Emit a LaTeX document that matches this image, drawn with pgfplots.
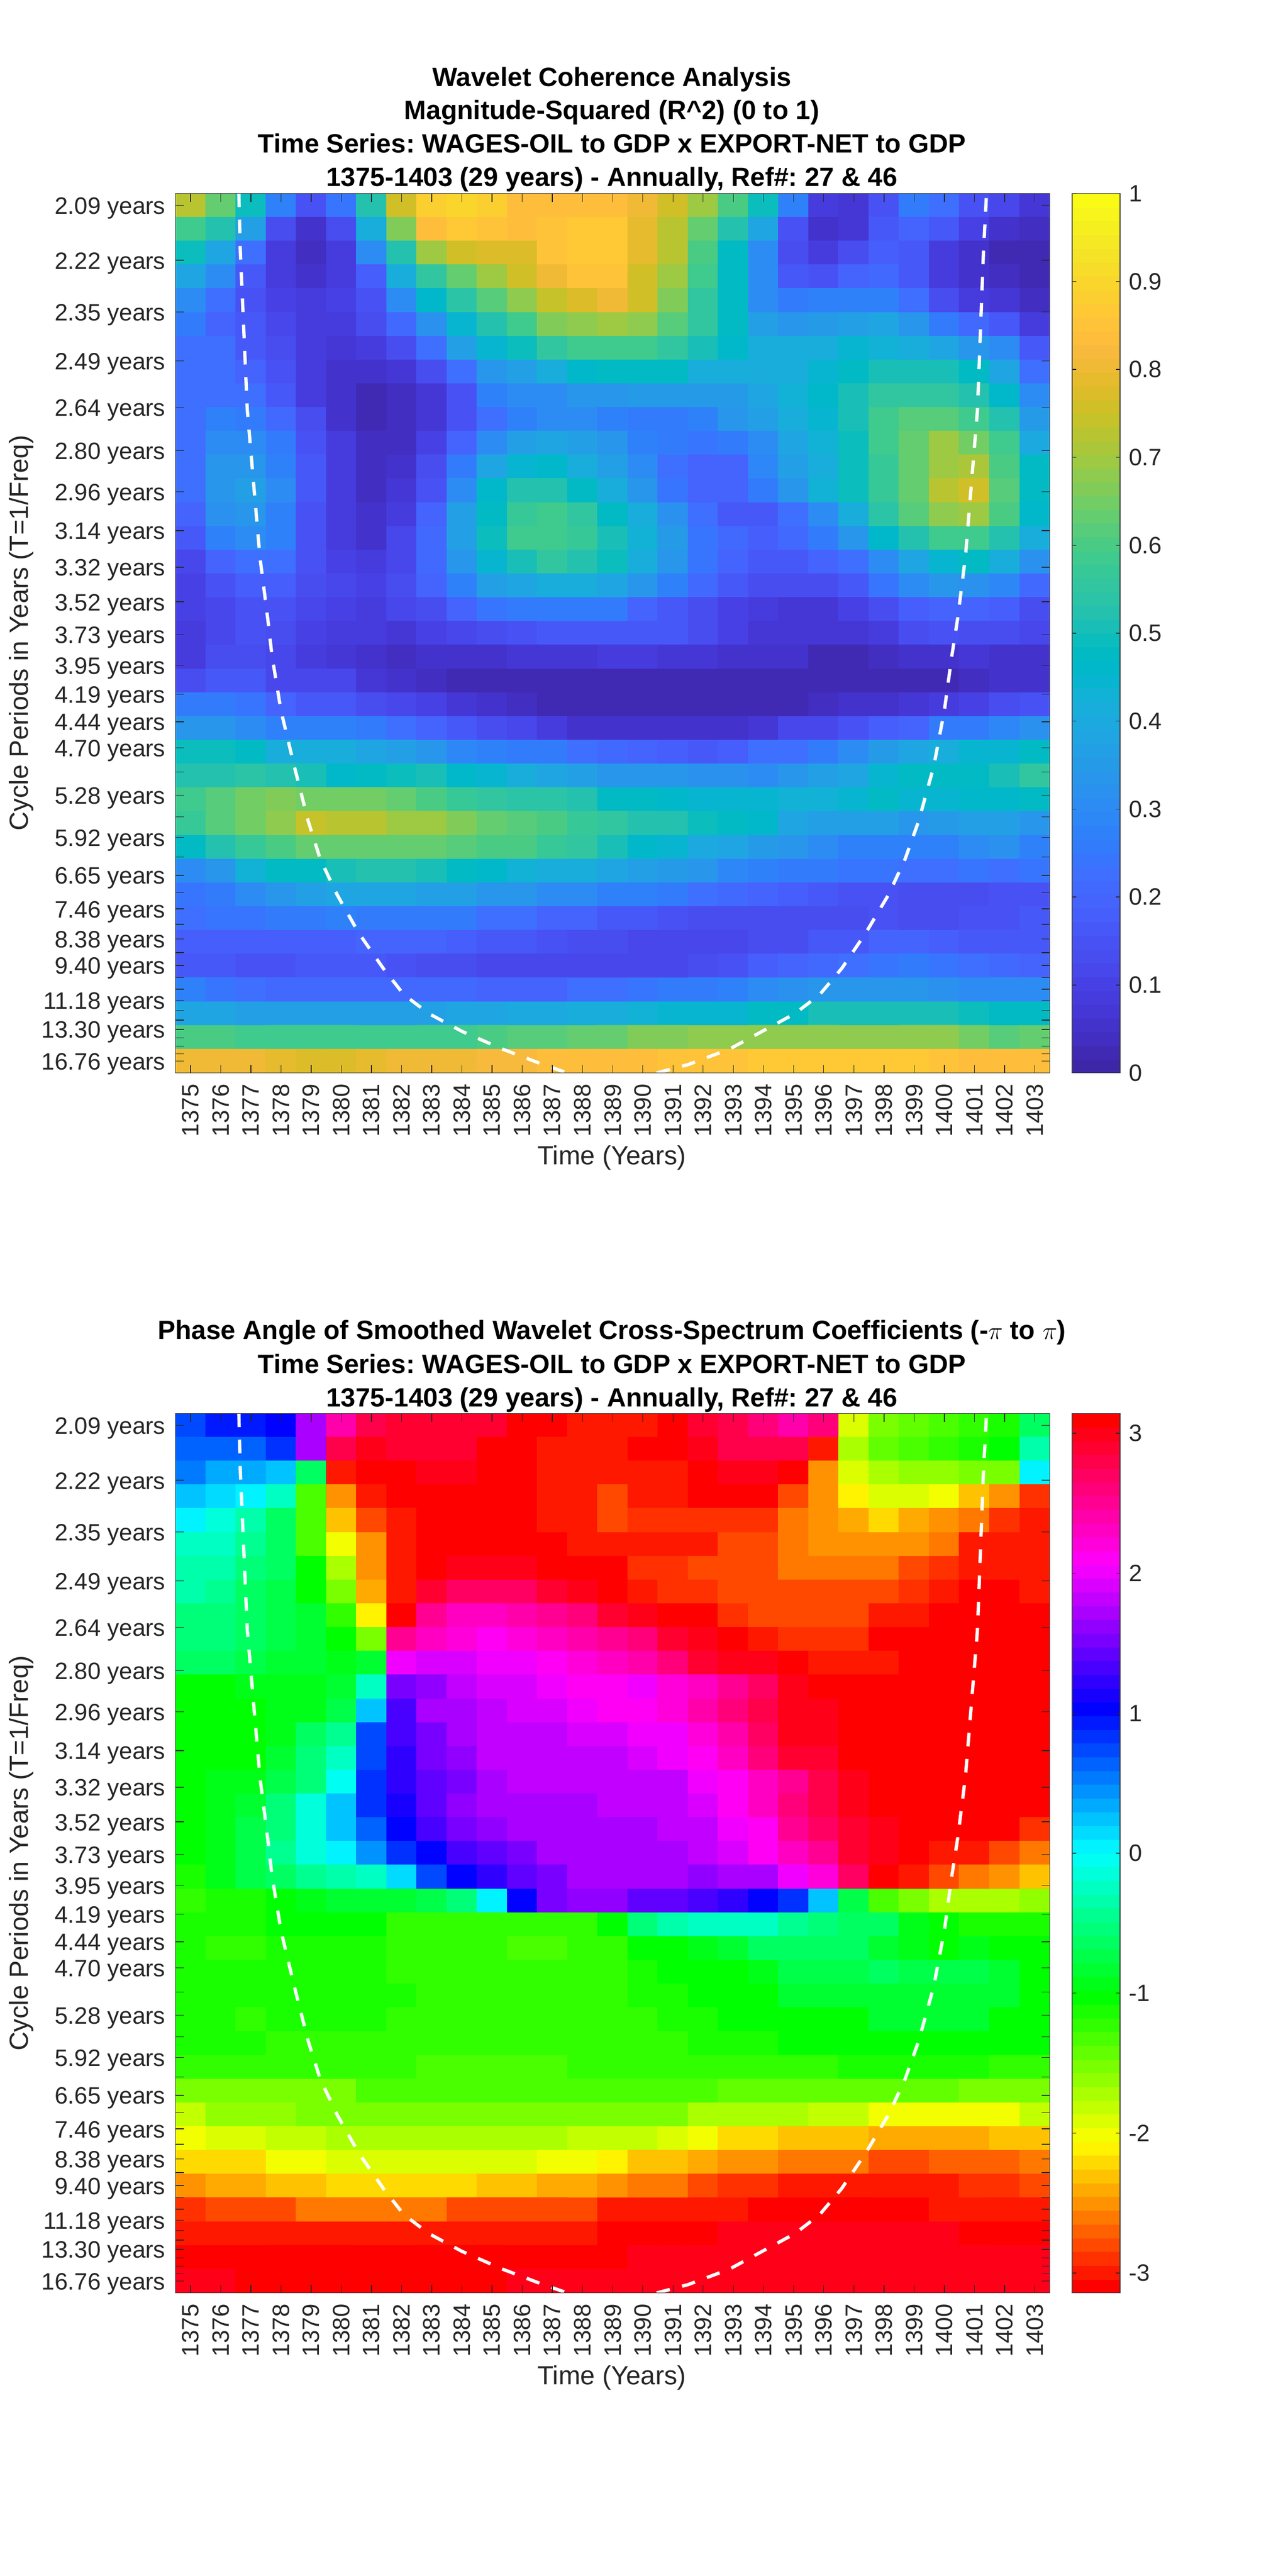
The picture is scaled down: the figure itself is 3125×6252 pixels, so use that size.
\documentclass[border=0pt]{standalone}
\usepackage{pgfplots}
\pgfplotsset{compat=1.18}
\usepackage{fontspec}
\setmainfont{Liberation Sans}
\frenchspacing
\pgfplotsset{
 colormap={parula}{
 rgb=(0.2422,0.1504,0.6603) rgb=(0.2504,0.1650,0.7076) rgb=(0.2578,0.1818,0.7511) rgb=(0.2647,0.1978,0.7952)
 rgb=(0.2706,0.2147,0.8364) rgb=(0.2751,0.2342,0.8710) rgb=(0.2783,0.2559,0.8991) rgb=(0.2803,0.2782,0.9221)
 rgb=(0.2813,0.3006,0.9414) rgb=(0.2810,0.3228,0.9579) rgb=(0.2795,0.3447,0.9717) rgb=(0.2760,0.3667,0.9829)
 rgb=(0.2699,0.3892,0.9906) rgb=(0.2602,0.4123,0.9952) rgb=(0.2440,0.4358,0.9988) rgb=(0.2206,0.4603,0.9973)
 rgb=(0.1963,0.4847,0.9892) rgb=(0.1834,0.5074,0.9798) rgb=(0.1786,0.5289,0.9682) rgb=(0.1764,0.5499,0.9520)
 rgb=(0.1687,0.5703,0.9359) rgb=(0.1540,0.5902,0.9218) rgb=(0.1460,0.6091,0.9079) rgb=(0.1380,0.6276,0.8973)
 rgb=(0.1248,0.6459,0.8883) rgb=(0.1113,0.6635,0.8763) rgb=(0.0952,0.6798,0.8598) rgb=(0.0689,0.6948,0.8394)
 rgb=(0.0297,0.7082,0.8163) rgb=(0.0036,0.7203,0.7917) rgb=(0.0067,0.7312,0.7660) rgb=(0.0433,0.7411,0.7394)
 rgb=(0.0964,0.7500,0.7120) rgb=(0.1408,0.7584,0.6842) rgb=(0.1717,0.7670,0.6554) rgb=(0.1938,0.7758,0.6251)
 rgb=(0.2161,0.7843,0.5923) rgb=(0.2470,0.7918,0.5567) rgb=(0.2906,0.7973,0.5188) rgb=(0.3406,0.8008,0.4789)
 rgb=(0.3909,0.8029,0.4354) rgb=(0.4456,0.8024,0.3909) rgb=(0.5044,0.7993,0.3480) rgb=(0.5616,0.7942,0.3045)
 rgb=(0.6174,0.7876,0.2612) rgb=(0.6720,0.7793,0.2227) rgb=(0.7242,0.7698,0.1910) rgb=(0.7738,0.7598,0.1646)
 rgb=(0.8203,0.7498,0.1535) rgb=(0.8634,0.7406,0.1596) rgb=(0.9035,0.7330,0.1774) rgb=(0.9393,0.7288,0.2100)
 rgb=(0.9728,0.7298,0.2394) rgb=(0.9956,0.7434,0.2371) rgb=(0.9970,0.7659,0.2199) rgb=(0.9952,0.7893,0.2028)
 rgb=(0.9892,0.8136,0.1885) rgb=(0.9786,0.8386,0.1766) rgb=(0.9676,0.8639,0.1643) rgb=(0.9610,0.8890,0.1537)
 rgb=(0.9597,0.9135,0.1423) rgb=(0.9628,0.9373,0.1265) rgb=(0.9691,0.9606,0.1064) rgb=(0.9769,0.9839,0.0805)},
 colormap={hsvbase}{rgb=(1,0,0) rgb=(1,1,0) rgb=(0,1,0) rgb=(0,1,1) rgb=(0,0,1) rgb=(1,0,1) rgb=(1,0,0)},
 colormap={hsv64}{samples of colormap=(64 of hsvbase)},
 wave/.style={
  scale only axis, width=509.28pt, height=512.3pt, y dir=reverse,
  xmin=1374.5, xmax=1403.5, ymin=0.5, ymax=37.5, axis on top,
  tick align=inside, major tick length=4.8pt,
  tick style={color=black!85, line width=0.4pt},
  axis line style={color=black!75, line width=0.45pt},
  xtick={1375,1376,1377,1378,1379,1380,1381,1382,1383,1384,1385,1386,1387,1388,1389,1390,1391,1392,1393,1394,1395,1396,1397,1398,1399,1400,1401,1402,1403},
  xticklabels={1375,1376,1377,1378,1379,1380,1381,1382,1383,1384,1385,1386,1387,1388,1389,1390,1391,1392,1393,1394,1395,1396,1397,1398,1399,1400,1401,1402,1403},
  xticklabel style={rotate=90, anchor=east, inner sep=0pt, xshift=-6.2pt, font=\fontsize{13.8}{16}\selectfont, text=black!85},
  ytick={1,3.309,5.489,7.546,9.488,11.321,13.051,14.684,16.225,17.680,19.053,20.349,21.572,22.727,23.816,24.845,25.816,26.732,27.597,28.414,29.184,29.912,30.598,31.246,31.858,32.435,32.980,33.495,33.979,34.438,34.871,35.279,35.664,36.028,36.371,36.695,37.001},
  yticklabels={2.09 years,2.22 years,2.35 years,2.49 years,2.64 years,2.80 years,2.96 years,3.14 years,3.32 years,3.52 years,3.73 years,3.95 years,4.19 years,4.44 years,4.70 years,{},5.28 years,{},5.92 years,{},6.65 years,{},7.46 years,{},8.38 years,{},9.40 years,{},{},11.18 years,{},{},13.30 years,{},{},{},16.76 years},
  yticklabel style={anchor=east, inner sep=0pt, xshift=-5.7pt, yshift=-1.7pt, font=\fontsize{13.8}{16}\selectfont, text=black!85},
 },
 cbar/.style={
  colorbar sampled,
  colorbar style={samples=65, at={(1.0255,1)}, anchor=north west, width=27.84pt,
   tick align=inside, major tick length=2.4pt,
   tick style={color=black!85, line width=0.4pt},
   axis line style={color=black!75, line width=0.45pt},
   yticklabel style={inner sep=0pt, xshift=5pt, anchor=west, font=\fontsize{13.8}{16}\selectfont, text=black!85},
   #1}
 },
 coi/.style={white, line width=1.9pt, dash pattern=on 7.9pt off 7.4pt}
}
\begin{document}
\begin{tikzpicture}[x=0.24pt,y=0.24pt]
\path[use as bounding box] (0,0) rectangle (3125,6252);
\begin{axis}[wave, at={(102.24pt,875.52pt)}, anchor=south west, colormap name=parula, colormap access=piecewise constant,
 point meta min=0, point meta max=1,
 cbar={ytick={0,0.1,0.2,0.3,0.4,0.5,0.6,0.7,0.8,0.9,1}, yticklabels={0,0.1,0.2,0.3,0.4,0.5,0.6,0.7,0.8,0.9,1}}]
\addplot[matrix plot*, mesh/cols=29, point meta=explicit] table[x expr={mod(\coordindex,29)+1375}, y expr={floor((\coordindex+0.5)/29)+1}, meta index=0, header=false, empty line=none] {
0.73 
0.63 
0.49 
0.27 
0.15 
0.24 
0.53 
0.76 
0.88 
0.90 
0.88 
0.83 
0.83 
0.83 
0.83 
0.80 
0.75 
0.69 
0.60 
0.49 
0.27 
0.08 
0.07 
0.15 
0.25 
0.22 
0.15 
0.11 
0.07
0.59
0.52
0.37
0.13
0.05
0.13
0.42
0.66
0.84
0.86
0.85
0.83
0.85
0.86
0.86
0.79
0.73
0.64
0.53
0.39
0.15
0.05
0.07
0.16
0.20
0.16
0.10
0.05
0.04
0.49
0.39
0.22
0.09
0.04
0.08
0.30
0.53
0.70
0.76
0.77
0.77
0.85
0.86
0.86
0.79
0.72
0.60
0.48
0.30
0.14
0.09
0.13
0.18
0.16
0.09
0.06
0.03
0.03
0.38
0.30
0.16
0.09
0.05
0.08
0.18
0.41
0.56
0.63
0.70
0.75
0.80
0.85
0.85
0.76
0.70
0.58
0.48
0.30
0.17
0.15
0.19
0.21
0.16
0.08
0.05
0.04
0.03
0.31
0.23
0.15
0.10
0.08
0.10
0.15
0.31
0.46
0.54
0.61
0.68
0.74
0.78
0.80
0.75
0.66
0.56
0.47
0.30
0.26
0.27
0.28
0.27
0.23
0.14
0.09
0.07
0.04
0.25
0.20
0.17
0.11
0.09
0.09
0.13
0.21
0.32
0.44
0.53
0.58
0.66
0.68
0.70
0.68
0.61
0.56
0.47
0.36
0.34
0.35
0.36
0.38
0.33
0.26
0.21
0.16
0.08
0.23
0.23
0.17
0.13
0.09
0.07
0.08
0.13
0.22
0.36
0.44
0.49
0.55
0.58
0.59
0.59
0.56
0.50
0.46
0.42
0.42
0.42
0.44
0.43
0.41
0.38
0.33
0.31
0.17
0.23
0.22
0.19
0.15
0.09
0.06
0.05
0.07
0.14
0.23
0.33
0.37
0.41
0.46
0.47
0.48
0.48
0.42
0.41
0.41
0.41
0.45
0.47
0.50
0.50
0.50
0.47
0.38
0.22
0.23
0.22
0.22
0.17
0.09
0.05
0.03
0.04
0.07
0.15
0.27
0.30
0.31
0.33
0.34
0.35
0.35
0.35
0.35
0.38
0.43
0.46
0.50
0.55
0.55
0.55
0.52
0.46
0.30
0.23
0.28
0.26
0.21
0.13
0.06
0.03
0.04
0.07
0.15
0.23
0.28
0.30
0.30
0.27
0.26
0.26
0.28
0.33
0.36
0.41
0.45
0.51
0.59
0.61
0.62
0.58
0.52
0.35
0.23
0.31
0.31
0.26
0.15
0.08
0.04
0.04
0.10
0.20
0.31
0.36
0.38
0.37
0.33
0.27
0.25
0.24
0.25
0.30
0.39
0.43
0.49
0.58
0.63
0.69
0.65
0.58
0.40
0.23
0.33
0.34
0.28
0.16
0.08
0.04
0.05
0.13
0.26
0.39
0.45
0.46
0.42
0.36
0.30
0.22
0.20
0.20
0.29
0.37
0.42
0.49
0.57
0.64
0.70
0.71
0.60
0.47
0.23
0.33
0.36
0.30
0.16
0.08
0.04
0.07
0.15
0.30
0.46
0.53
0.52
0.48
0.42
0.33
0.24
0.20
0.19
0.26
0.33
0.43
0.49
0.57
0.64
0.73
0.75
0.62
0.48
0.20
0.32
0.34
0.27
0.15
0.09
0.05
0.09
0.20
0.36
0.48
0.57
0.58
0.55
0.48
0.42
0.32
0.22
0.17
0.17
0.22
0.31
0.41
0.54
0.61
0.68
0.70
0.60
0.46
0.17
0.28
0.30
0.27
0.15
0.09
0.06
0.11
0.21
0.37
0.49
0.58
0.58
0.57
0.50
0.43
0.35
0.24
0.21
0.18
0.21
0.26
0.34
0.46
0.52
0.58
0.58
0.53
0.41
0.12
0.20
0.22
0.22
0.15
0.10
0.08
0.11
0.21
0.34
0.45
0.50
0.55
0.53
0.49
0.42
0.33
0.24
0.20
0.16
0.16
0.19
0.23
0.30
0.39
0.44
0.48
0.41
0.32
0.10
0.15
0.18
0.18
0.14
0.11
0.10
0.13
0.19
0.27
0.36
0.38
0.41
0.41
0.39
0.34
0.27
0.21
0.17
0.14
0.13
0.14
0.17
0.24
0.30
0.33
0.32
0.29
0.21
0.10
0.12
0.15
0.15
0.12
0.10
0.09
0.11
0.14
0.20
0.24
0.25
0.25
0.25
0.25
0.20
0.17
0.14
0.10
0.09
0.07
0.07
0.10
0.14
0.18
0.20
0.20
0.18
0.14
0.08
0.11
0.15
0.13
0.10
0.09
0.08
0.07
0.10
0.11
0.13
0.15
0.17
0.17
0.17
0.16
0.16
0.13
0.10
0.07
0.07
0.07
0.07
0.09
0.14
0.15
0.14
0.13
0.11
0.09
0.13
0.13
0.11
0.09
0.07
0.05
0.04
0.05
0.05
0.06
0.07
0.07
0.07
0.08
0.08
0.07
0.07
0.06
0.05
0.05
0.03
0.03
0.04
0.05
0.06
0.07
0.06
0.05
0.14
0.16
0.16
0.12
0.11
0.12
0.07
0.06
0.04
0.03
0.03
0.03
0.03
0.03
0.03
0.03
0.03
0.02
0.02
0.02
0.02
0.02
0.02
0.03
0.03
0.03
0.04
0.06
0.06
0.25
0.25
0.24
0.19
0.17
0.17
0.14
0.12
0.10
0.07
0.05
0.04
0.02
0.02
0.02
0.02
0.02
0.02
0.02
0.03
0.03
0.04
0.06
0.06
0.07
0.09
0.10
0.13
0.15
0.33
0.33
0.31
0.28
0.27
0.27
0.25
0.23
0.20
0.17
0.13
0.12
0.09
0.06
0.05
0.05
0.05
0.05
0.06
0.07
0.11
0.12
0.15
0.18
0.20
0.25
0.26
0.29
0.32
0.49
0.49
0.47
0.42
0.41
0.41
0.38
0.36
0.34
0.29
0.27
0.26
0.25
0.22
0.21
0.19
0.18
0.16
0.18
0.22
0.23
0.26
0.31
0.35
0.38
0.42
0.44
0.44
0.47
0.53
0.53
0.54
0.53
0.51
0.46
0.47
0.49
0.50
0.46
0.45
0.42
0.38
0.36
0.33
0.33
0.34
0.32
0.32
0.31
0.34
0.36
0.39
0.45
0.47
0.47
0.48
0.50
0.55
0.59
0.62
0.65
0.66
0.65
0.65
0.65
0.63
0.60
0.57
0.56
0.54
0.54
0.52
0.48
0.47
0.46
0.44
0.44
0.44
0.43
0.43
0.44
0.47
0.44
0.45
0.46
0.46
0.48
0.57
0.62
0.65
0.68
0.74
0.73
0.72
0.70
0.69
0.66
0.64
0.62
0.60
0.57
0.55
0.53
0.53
0.49
0.47
0.46
0.38
0.37
0.36
0.37
0.34
0.35
0.37
0.36
0.34
0.47
0.53
0.57
0.60
0.63
0.64
0.64
0.64
0.64
0.62
0.60
0.60
0.57
0.55
0.50
0.46
0.44
0.40
0.39
0.35
0.33
0.30
0.28
0.27
0.27
0.28
0.30
0.32
0.28
0.30
0.33
0.43
0.47
0.48
0.51
0.52
0.52
0.50
0.48
0.46
0.43
0.42
0.42
0.39
0.37
0.35
0.33
0.29
0.27
0.26
0.25
0.24
0.24
0.23
0.23
0.24
0.22
0.24
0.24
0.25
0.31
0.33
0.36
0.38
0.38
0.38
0.37
0.36
0.34
0.33
0.31
0.30
0.28
0.27
0.25
0.23
0.21
0.19
0.18
0.16
0.15
0.15
0.14
0.13
0.13
0.15
0.15
0.23
0.24
0.24
0.25
0.26
0.27
0.26
0.26
0.26
0.25
0.23
0.22
0.20
0.19
0.17
0.16
0.15
0.14
0.14
0.14
0.14
0.14
0.14
0.15
0.14
0.14
0.15
0.15
0.16
0.18
0.18
0.18
0.18
0.18
0.18
0.19
0.19
0.20
0.18
0.17
0.17
0.15
0.13
0.13
0.12
0.11
0.12
0.12
0.13
0.14
0.16
0.17
0.19
0.19
0.18
0.17
0.17
0.17
0.17
0.17
0.15
0.15
0.16
0.16
0.16
0.15
0.14
0.14
0.12
0.12
0.11
0.11
0.11
0.12
0.12
0.14
0.15
0.18
0.19
0.21
0.23
0.24
0.25
0.24
0.22
0.21
0.20
0.28
0.24
0.22
0.21
0.21
0.21
0.21
0.21
0.21
0.21
0.20
0.20
0.20
0.22
0.23
0.24
0.25
0.25
0.27
0.30
0.32
0.33
0.33
0.33
0.33
0.32
0.31
0.30
0.31
0.38
0.38
0.37
0.36
0.36
0.36
0.36
0.36
0.37
0.38
0.39
0.40
0.40
0.42
0.42
0.43
0.44
0.45
0.45
0.47
0.48
0.51
0.51
0.51
0.51
0.50
0.49
0.48
0.47
0.60
0.60
0.58
0.58
0.58
0.58
0.59
0.59
0.59
0.59
0.60
0.61
0.62
0.63
0.64
0.66
0.67
0.68
0.68
0.68
0.68
0.68
0.68
0.68
0.68
0.68
0.65
0.62
0.63
0.81
0.81
0.81
0.79
0.78
0.78
0.79
0.80
0.80
0.81
0.82
0.82
0.83
0.84
0.84
0.84
0.85
0.85
0.85
0.86
0.86
0.87
0.87
0.87
0.87
0.85
0.84
0.84
0.83
};
\addplot[coi] coordinates {(1376.6,0.5)(1376.65,2.93)(1376.88,9.6)(1377.3,15.8)(1377.56,18.4)(1377.7,19.95)(1378.0,22.27)(1378.44,24.6)(1378.9,26.9)(1379.3,28.5)(1379.86,30.0)(1380.57,31.6)(1381.39,33.1)(1382.07,34.2)(1382.9,35.0)(1384,35.75)(1385.35,36.5)(1386.7,37.15)(1387.5,37.5)};
\addplot[coi] coordinates {(1390.46,37.5)(1391.5,37.15)(1392.87,36.5)(1393.96,35.75)(1395.05,35.0)(1395.87,34.2)(1396.6,33.1)(1397.4,31.6)(1398.15,30.0)(1398.7,28.5)(1399.15,26.9)(1399.65,24.6)(1400,22.27)(1400.25,19.95)(1400.44,18.4)(1400.7,15.8)(1401.1,9.6)(1401.3,2.93)(1401.4,0.5)};
\end{axis}
\begin{axis}[wave, at={(102.24pt,164.88pt)}, anchor=south west, colormap name=hsv64, colormap access=piecewise constant,
 point meta min=-3.14159, point meta max=3.14159,
 cbar={ytick={-3,-2,-1,0,1,2,3}, yticklabels={-3,-2,-1,0,1,2,3}}]
\addplot[matrix plot*, mesh/cols=29, point meta=explicit] table[x expr={mod(\coordindex,29)+1375}, y expr={floor((\coordindex+0.5)/29)+1}, meta index=0, header=false, empty line=none] {
0.75
0.9
0.9
1.05
1.75
2.45
2.75
2.85
2.85
2.9
2.9
3.14
-3.05
-2.95
-2.95
-3.0
3.14
2.9
2.8
2.6
2.45
2.6
-1.95
-1.55
-1.45
-1.35
-1.25
-1.15
-0.6
0.65
0.65
0.65
0.8
1.75
2.75
2.95
2.9
2.9
2.9
3.05
3.14
-2.95
-2.95
-2.95
-3.05
3.14
3.0
2.8
2.75
2.75
-3.0
-1.75
-1.4
-1.35
-1.2
-1.15
-1.05
-0.3
0.5
0.35
0.35
0.2
-0.65
-3.0
3.14
3.05
2.95
2.95
3.05
3.14
-2.95
-2.95
-2.95
-2.95
-3.0
3.14
3.0
3.0
3.14
-2.55
-1.95
-1.7
-1.6
-1.6
-1.55
-1.5
0
0.25
0.1
0
-0.25
-1.3
-2.55
-2.95
3.14
3.05
3.05
3.1
3.14
-2.95
-2.95
-2.8
-2.95
-2.95
-3.05
-3.05
-3.05
-2.75
-2.5
-2.15
-1.95
-1.95
-2.05
-2.3
-2.55
-2.85
0
-0.1
-0.3
-0.6
-1.35
-2.3
-2.75
-3.0
3.14
3.12
3.1
3.14
-3.0
-2.95
-2.8
-2.9
-2.9
-2.9
-2.9
-2.85
-2.65
-2.5
-2.4
-2.25
-2.4
-2.5
-2.6
-2.85
-2.95
-0.2
-0.25
-0.45
-0.65
-1.3
-2.0
-2.55
-2.95
3.14
3.1
3.1
3.1
-3.05
-2.95
-2.95
-2.95
-2.95
-2.95
-2.8
-2.75
-2.6
-2.55
-2.5
-2.5
-2.55
-2.65
-2.95
-3.0
-3.0
-0.3
-0.35
-0.5
-0.65
-1.05
-1.75
-2.5
-2.95
3.05
3.0
3.0
3.0
3.1
-3.05
-3.05
-2.9
-2.9
-2.8
-2.8
-2.75
-2.65
-2.65
-2.65
-2.65
-2.75
-2.85
-2.95
-2.95
-2.95
-0.35
-0.45
-0.6
-0.7
-1.05
-1.5
-2.4
-3.0
2.85
2.7
2.7
2.7
2.85
3.0
3.14
-3.0
-2.9
-2.9
-2.8
-2.75
-2.75
-2.75
-2.75
-2.75
-2.85
-2.95
-3.05
-3.05
-2.95
-0.5
-0.55
-0.65
-0.7
-0.85
-1.2
-2.1
-3.05
2.5
2.35
2.35
2.4
2.5
2.6
2.85
2.95
3.14
-3.05
-2.85
-2.8
-2.8
-2.8
-2.8
-2.95
-2.95
-3.05
-3.05
-3.05
-3.05
-0.5
-0.55
-0.65
-0.7
-0.8
-1.0
-1.55
2.55
2.35
2.2
2.15
2.2
2.3
2.45
2.55
2.6
2.85
3.0
3.14
-3.0
-2.9
-2.9
-2.9
-3.05
-3.05
-3.05
3.14
3.14
-3.05
-0.65
-0.65
-0.7
-0.8
-0.8
-0.9
-0.8
2.0
1.95
1.95
2.0
2.05
2.1
2.2
2.3
2.45
2.6
2.85
3.0
3.0
3.14
-3.0
-3.0
-3.0
3.14
3.14
3.14
3.14
-3.05
-1.0
-1.0
-0.95
-0.9
-0.9
-0.85
-0.25
1.5
1.6
1.85
1.9
1.95
2.05
2.1
2.1
2.05
2.2
2.35
2.5
2.7
2.95
3.05
3.14
3.14
3.14
3.14
3.14
3.14
-3.05
-1.05
-1.0
-1.0
-0.95
-0.9
-0.75
0.2
1.35
1.7
1.75
1.85
1.9
1.95
2.0
2.1
2.1
2.25
2.45
2.6
2.8
3.0
3.0
3.14
3.14
3.14
3.14
3.14
3.14
-3.05
-1.05
-1.05
-1.0
-0.95
-0.65
-0.4
0.7
1.35
1.55
1.7
1.85
1.85
1.85
1.95
1.95
2.0
2.05
2.25
2.4
2.7
2.95
3.0
3.14
3.14
3.14
3.14
3.14
3.14
-3.05
-1.05
-1.05
-1.05
-0.8
-0.55
-0.2
0.75
1.25
1.55
1.65
1.8
1.85
1.85
1.85
1.85
1.95
2.0
2.1
2.35
2.6
2.85
2.9
3.14
3.14
3.14
3.14
3.14
3.14
-3.05
-1.05
-0.95
-0.9
-0.75
-0.5
-0.05
0.85
1.2
1.45
1.55
1.75
1.8
1.85
1.85
1.85
1.85
1.85
2.0
2.1
2.35
2.55
2.75
3.0
3.14
3.14
3.14
3.14
-3.05
-3.05
-1.05
-0.95
-0.85
-0.55
-0.15
0.2
0.8
1.1
1.4
1.65
1.7
1.75
1.75
1.75
1.85
1.85
1.85
1.95
2.1
2.3
2.6
2.75
3.0
3.1
3.14
3.14
3.14
-3.05
-3.05
-1.05
-0.9
-0.75
-0.5
-0.1
0.2
0.6
1.05
1.3
1.5
1.6
1.7
1.75
1.75
1.75
1.75
1.85
1.85
2.05
2.15
2.55
2.7
2.9
3.0
3.14
-3.1
-3.05
-3.05
-2.9
-1.0
-0.9
-0.7
-0.45
-0.15
0
0.45
0.8
1.05
1.3
1.45
1.55
1.7
1.75
1.75
1.75
1.75
1.85
1.9
2.1
2.3
2.55
2.85
2.95
3.14
-3.0
-2.95
-2.8
-2.6
-1.15
-0.9
-0.75
-0.6
-0.45
-0.3
-0.2
0.1
0.7
1.05
1.25
1.4
1.55
1.75
1.75
1.75
1.75
1.65
1.7
1.75
2.0
2.2
2.7
3.14
-3.0
-2.75
-2.65
-2.55
-2.35
-1.2
-1.15
-1.1
-1.0
-0.9
-0.85
-0.8
-0.8
-0.7
-0.5
0
1.05
1.5
1.65
1.65
1.45
1.4
1.3
1.2
1.05
0.85
0.2
-0.7
-1.35
-1.55
-1.75
-1.75
-1.75
-1.65
-1.15
-1.15
-1.15
-1.05
-1.05
-1.05
-1.05
-1.2
-1.2
-1.2
-1.2
-1.2
-1.2
-1.2
-1.05
-0.5
-0.35
-0.25
-0.25
-0.25
-0.4
-0.5
-0.6
-0.65
-0.95
-1.05
-1.1
-1.1
-1.1
-1.1
-1.2
-1.2
-1.15
-1.15
-1.15
-1.15
-1.25
-1.25
-1.25
-1.25
-1.35
-1.35
-1.25
-1.25
-1.05
-1.05
-0.9
-0.8
-0.6
-0.6
-0.6
-0.6
-0.85
-0.95
-1.05
-0.95
-1.05
-1.05
-1.1
-1.1
-1.1
-1.15
-1.15
-1.15
-1.15
-1.25
-1.25
-1.25
-1.25
-1.25
-1.25
-1.25
-1.25
-1.1
-1.05
-1.0
-1.0
-0.9
-0.7
-0.7
-0.7
-0.65
-0.7
-0.75
-0.75
-0.8
-1.0
-1.1
-1.1
-1.1
-1.15
-1.15
-1.15
-1.15
-1.15
-1.25
-1.25
-1.25
-1.25
-1.25
-1.25
-1.25
-1.1
-1.15
-1.05
-1.05
-1.05
-0.85
-0.85
-0.85
-0.85
-0.85
-0.8
-0.8
-0.8
-1.0
-1.1
-1.1
-1.2
-1.15
-1.15
-1.15
-1.15
-1.2
-1.25
-1.25
-1.25
-1.25
-1.25
-1.25
-1.25
-1.25
-1.1
-1.1
-1.0
-1.0
-1.0
-1.0
-1.0
-0.85
-0.85
-0.85
-0.85
-1.0
-1.0
-1.15
-1.15
-1.15
-1.25
-1.25
-1.25
-1.25
-1.25
-1.25
-1.25
-1.25
-1.25
-1.25
-1.25
-1.25
-1.25
-1.25
-1.1
-1.1
-1.1
-1.0
-1.0
-1.0
-1.0
-1.0
-1.0
-1.0
-1.0
-1.0
-1.25
-1.25
-1.25
-1.25
-1.25
-1.25
-1.25
-1.25
-1.35
-1.35
-1.35
-1.35
-1.35
-1.25
-1.25
-1.25
-1.25
-1.25
-1.25
-1.25
-1.25
-1.25
-1.15
-1.15
-1.15
-1.15
-1.15
-1.2
-1.2
-1.5
-1.5
-1.5
-1.5
-1.5
-1.5
-1.35
-1.35
-1.35
-1.35
-1.35
-1.35
-1.35
-1.35
-1.35
-1.35
-1.35
-1.35
-1.45
-1.45
-1.45
-1.45
-1.45
-1.45
-1.45
-1.45
-1.55
-1.55
-1.55
-1.85
-1.65
-1.65
-1.65
-1.5
-1.5
-1.5
-1.5
-1.5
-1.5
-1.5
-1.5
-1.5
-1.5
-1.5
-1.5
-1.5
-1.7
-1.7
-1.75
-1.75
-1.85
-1.85
-1.98
-1.98
-1.98
-1.98
-1.98
-1.85
-2.05
-1.9
-1.9
-1.85
-1.85
-1.75
-1.75
-1.75
-1.75
-1.75
-1.75
-1.75
-1.75
-1.85
-1.85
-1.85
-1.95
-2.05
-2.2
-2.2
-2.3
-2.35
-2.35
-2.42
-2.42
-2.42
-2.42
-2.35
-2.35
-2.25
-2.2
-2.2
-2.05
-2.05
-1.95
-1.95
-1.95
-1.95
-1.95
-1.95
-1.95
-2.05
-2.05
-2.15
-2.3
-2.3
-2.4
-2.5
-2.55
-2.65
-2.65
-2.65
-2.75
-2.75
-2.68
-2.68
-2.68
-2.58
-2.55
-2.45
-2.45
-2.35
-2.35
-2.25
-2.25
-2.25
-2.25
-2.25
-2.35
-2.35
-2.45
-2.45
-2.55
-2.65
-2.65
-2.75
-2.85
-2.85
-2.95
-2.95
-2.95
-2.95
-2.95
-2.95
-2.85
-2.85
-2.75
-2.88
-2.75
-2.75
-2.75
-2.65
-2.65
-2.65
-2.65
-2.65
-2.75
-2.75
-2.75
-2.82
-2.82
-2.95
-2.95
-3.0
-3.0
-3.0
-3.12
-3.12
-3.12
-3.12
-3.12
-3.12
-3.03
-3.03
-3.03
-2.95
-3.03
-3.03
-2.95
-2.95
-2.95
-2.95
-2.95
-2.95
-2.95
-3.0
-3.0
-3.0
-3.0
-3.0
-3.12
-3.12
-3.12
-3.12
3.02
3.02
3.02
3.02
3.02
3.02
3.02
3.02
3.13
3.13
3.13
-3.12
-3.12
-3.12
-3.12
-3.12
-3.12
-3.12
-3.12
-3.12
-3.12
-3.12
-3.12
-3.12
-3.12
-3.12
3.03
3.03
3.03
3.03
3.03
3.03
3.03
3.03
3.03
3.03
3.03
3.03
3.03
3.03
3.03
3.03
-3.12
-3.12
-3.12
-3.12
-3.12
-3.12
-3.12
-3.12
-3.12
3.03
3.03
3.03
3.03
3.03
3.03
3.03
3.03
3.03
3.03
3.03
3.03
3.03
3.03
3.03
3.03
3.03
3.03
};
\addplot[coi] coordinates {(1376.6,0.5)(1376.65,2.93)(1376.88,9.6)(1377.3,15.8)(1377.56,18.4)(1377.7,19.95)(1378.0,22.27)(1378.44,24.6)(1378.9,26.9)(1379.3,28.5)(1379.86,30.0)(1380.57,31.6)(1381.39,33.1)(1382.07,34.2)(1382.9,35.0)(1384,35.75)(1385.35,36.5)(1386.7,37.15)(1387.5,37.5)};
\addplot[coi] coordinates {(1390.46,37.5)(1391.5,37.15)(1392.87,36.5)(1393.96,35.75)(1395.05,35.0)(1395.87,34.2)(1396.6,33.1)(1397.4,31.6)(1398.15,30.0)(1398.7,28.5)(1399.15,26.9)(1399.65,24.6)(1400,22.27)(1400.25,19.95)(1400.44,18.4)(1400.7,15.8)(1401.1,9.6)(1401.3,2.93)(1401.4,0.5)};
\end{axis}
\tikzset{ttl/.style={anchor=base, font=\fontsize{15.4}{18}\selectfont\bfseries, inner sep=0pt},
 lbl/.style={anchor=base, font=\fontsize{15.3}{18}\selectfont, text=black!85, inner sep=0pt}}
\node[ttl] at (1485,6042) {Wavelet Coherence Analysis};
\node[ttl] at (1485,5962) {Magnitude-Squared (R\^{}2) (0 to 1)};
\node[ttl] at (1485,5881) {Time Series: WAGES-OIL to GDP x EXPORT-NET to GDP};
\node[ttl] at (1485,5800) {1375-1403 (29 years) - Annually, Ref\#: 27 \& 46};
\node[ttl] at (1485,3001) {Phase Angle of Smoothed Wavelet Cross-Spectrum Coefficients (-$\pi$ to $\pi$)};
\node[ttl] at (1485,2919) {Time Series: WAGES-OIL to GDP x EXPORT-NET to GDP};
\node[ttl] at (1485,2838) {1375-1403 (29 years) - Annually, Ref\#: 27 \& 46};
\node[lbl] at (1485,3426) {Time (Years)};
\node[lbl] at (1485,464) {Time (Years)};
\node[lbl, rotate=90] at (68,4716) {Cycle Periods in Years (T=1/Freq)};
\node[lbl, rotate=90] at (68,1754) {Cycle Periods in Years (T=1/Freq)};
\end{tikzpicture}
\end{document}
